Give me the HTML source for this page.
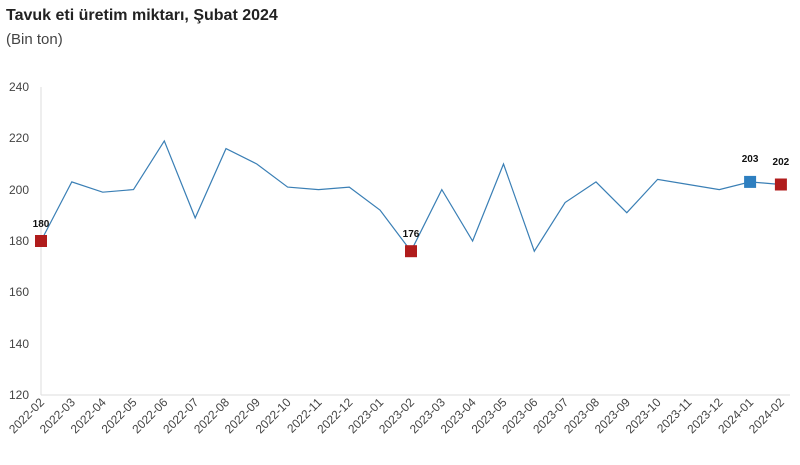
<!DOCTYPE html>
<html><head><meta charset="utf-8"><style>
body{margin:0;background:#fff;width:800px;height:460px;overflow:hidden;font-family:"Liberation Sans",sans-serif}
</style></head><body>
<svg width="800" height="460" xmlns="http://www.w3.org/2000/svg" font-family="Liberation Sans, sans-serif">
<text x="6" y="20" font-size="16" font-weight="bold" fill="#222">Tavuk eti üretim miktarı, Şubat 2024</text>
<text x="6" y="44" font-size="15" fill="#444">(Bin ton)</text>
<line x1="41" y1="87" x2="41" y2="395" stroke="#ddd"/>
<line x1="41" y1="395" x2="790" y2="395" stroke="#ddd"/>
<g font-size="12" fill="#444" text-anchor="end">
<text x="29" y="91">240</text><text x="29" y="142">220</text><text x="29" y="194">200</text>
<text x="29" y="245">180</text><text x="29" y="296">160</text><text x="29" y="348">140</text><text x="29" y="399">120</text>
</g>
<polyline fill="none" stroke="#3a7fb5" stroke-width="1.2" points="41,241 71.8,181.9 102.7,192.2 133.5,189.6 164.3,140.9 195.2,217.9 226,148.6 256.8,164 287.6,187.1 318.5,189.6 349.3,187.1 380.1,210.2 411,251.2 441.8,189.6 472.6,241 503.5,164 534.3,251.2 565.1,202.5 596,181.9 626.8,212.7 657.6,179.4 688.4,184.5 719.3,189.6 750.1,181.9 780.9,184.5"/>
<g font-size="12" fill="#444" text-anchor="end">
<text transform="translate(45,403) rotate(-45)">2022-02</text>
<text transform="translate(75.8,403) rotate(-45)">2022-03</text>
<text transform="translate(106.7,403) rotate(-45)">2022-04</text>
<text transform="translate(137.5,403) rotate(-45)">2022-05</text>
<text transform="translate(168.3,403) rotate(-45)">2022-06</text>
<text transform="translate(199.2,403) rotate(-45)">2022-07</text>
<text transform="translate(230,403) rotate(-45)">2022-08</text>
<text transform="translate(260.8,403) rotate(-45)">2022-09</text>
<text transform="translate(291.6,403) rotate(-45)">2022-10</text>
<text transform="translate(322.5,403) rotate(-45)">2022-11</text>
<text transform="translate(353.3,403) rotate(-45)">2022-12</text>
<text transform="translate(384.1,403) rotate(-45)">2023-01</text>
<text transform="translate(415,403) rotate(-45)">2023-02</text>
<text transform="translate(445.8,403) rotate(-45)">2023-03</text>
<text transform="translate(476.6,403) rotate(-45)">2023-04</text>
<text transform="translate(507.5,403) rotate(-45)">2023-05</text>
<text transform="translate(538.3,403) rotate(-45)">2023-06</text>
<text transform="translate(569.1,403) rotate(-45)">2023-07</text>
<text transform="translate(600,403) rotate(-45)">2023-08</text>
<text transform="translate(630.8,403) rotate(-45)">2023-09</text>
<text transform="translate(661.6,403) rotate(-45)">2023-10</text>
<text transform="translate(692.4,403) rotate(-45)">2023-11</text>
<text transform="translate(723.3,403) rotate(-45)">2023-12</text>
<text transform="translate(754.1,403) rotate(-45)">2024-01</text>
<text transform="translate(784.9,403) rotate(-45)">2024-02</text>
</g>
<g font-size="10" font-weight="bold" text-anchor="middle" fill="#111">
<rect x="35" y="235" width="12" height="12" fill="#b01c1c"/><text x="41" y="227">180</text>
<rect x="405" y="245.2" width="12" height="12" fill="#b01c1c"/><text x="411" y="237">176</text>
<rect x="744.1" y="175.9" width="12" height="12" fill="#2e7fc0"/><text x="750.1" y="162">203</text>
<rect x="774.9" y="178.5" width="12" height="12" fill="#b01c1c"/><text x="780.9" y="165">202</text>
</g>
</svg>
</body></html>
